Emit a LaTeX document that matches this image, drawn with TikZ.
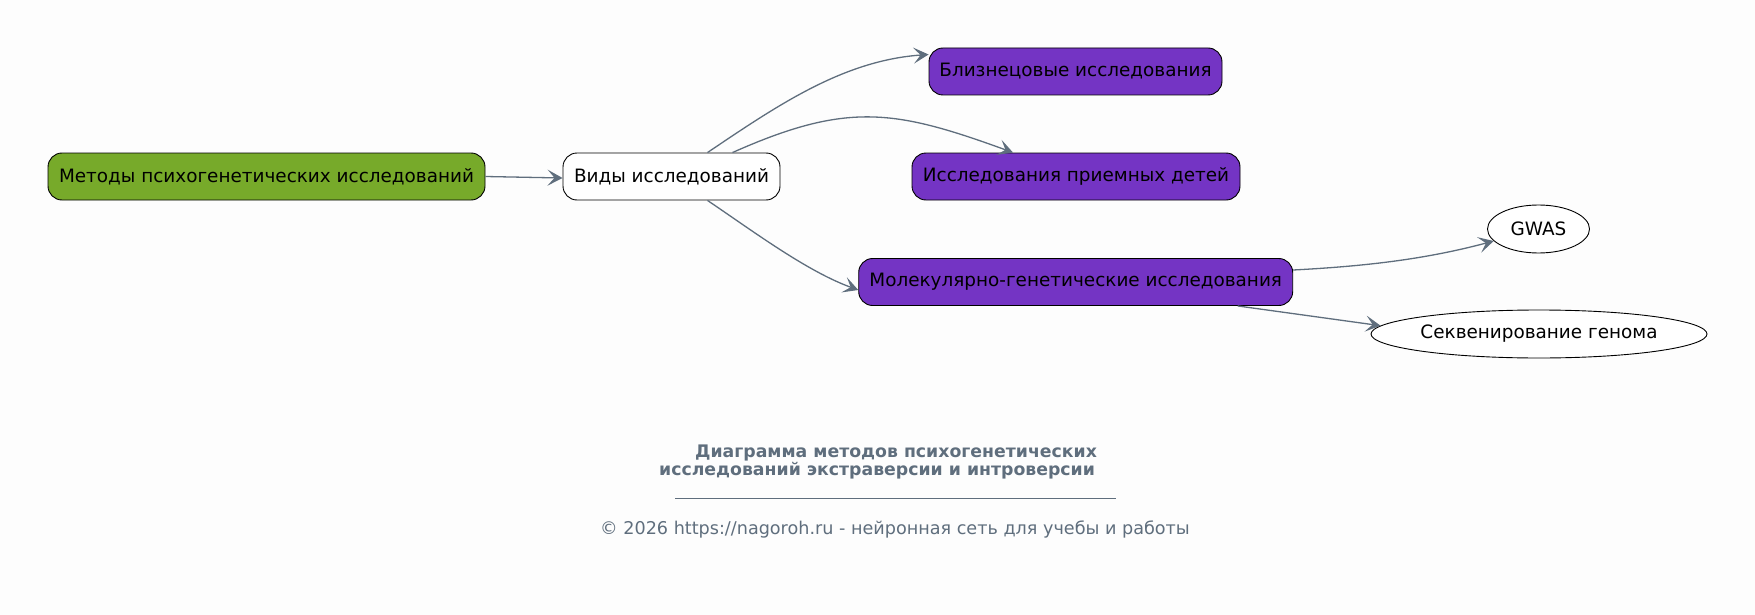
\documentclass[tikz,border=0pt]{standalone}
\usepackage{fontspec}
\setmainfont{DejaVu Sans}
\usetikzlibrary{arrows.meta,calc,shapes.geometric}
\definecolor{bg}{HTML}{FDFDFD}
\definecolor{greenf}{HTML}{77AA2A}
\definecolor{purplef}{HTML}{7434C4}
\definecolor{edgec}{HTML}{5F6E7D}
\tikzset{
  box/.style={draw=black, line width=0.9pt, rounded corners=14pt, minimum height=47pt, inner xsep=6pt, font=\fontsize{18.4}{21}\selectfont, text=black},
  ell/.style={draw=black, line width=0.9pt, ellipse, minimum height=48pt, inner sep=0pt, fill=white, font=\fontsize{18.4}{21}\selectfont},
  conn/.style={draw=edgec, line width=1.3pt, -{Stealth[length=15pt,width=16pt,inset=7pt]}},
  ttl/.style={text=edgec, font=\bfseries\fontsize{17.3}{20}\selectfont},
  copy/.style={text=edgec, font=\fontsize{17.6}{20}\selectfont}
}
\begin{document}
\begin{tikzpicture}[x=1pt,y=1pt]
\fill[bg] (0,0) rectangle (1755,-615);
\useasboundingbox (0,0) rectangle (1755,-615);
\node[box, fill=greenf, minimum width=437pt] (meth) at (266.5,-176.5) {Методы психогенетических исследований};
\node[box, fill=white, minimum width=217pt] (vid) at (671.5,-176.5) {Виды исследований};
\node[box, fill=purplef, minimum width=293pt] (twin) at (1075.5,-71.5) {Близнецовые исследования};
\node[box, fill=purplef, minimum width=328pt] (adopt) at (1076,-176.5) {Исследования приемных детей};
\node[box, fill=purplef, minimum width=434pt] (mol) at (1075.7,-282) {Молекулярно-генетические исследования};
\node[ell, minimum width=102pt] (gwas) at (1538.5,-229) {GWAS};
\node[ell, minimum width=336pt] (seq) at (1539,-334) {Секвенирование генома};

\draw[conn] (meth.east) -- ($(vid.west)+(0,-1.5)$);
\draw[conn] ($(vid.north)+(36,0)$) to[out=34,in=184,looseness=0.9] ($(twin.west)+(0,17)$);
\draw[conn] ($(vid.north)+(61,0)$) to[out=24,in=160,looseness=1.15] ($(adopt.north)+(-63,0)$);
\draw[conn] ($(vid.south)+(36,0)$) to[out=-34,in=160,looseness=0.8] ($(mol.west)+(0,-8)$);
\draw[conn] ($(mol.east)+(0,12)$) to[out=3,in=195,looseness=0.9] (gwas.195);
\draw[conn] ($(mol.south)+(162,0)$) -- (seq.177);

\node[ttl] (t1) at (896,-453) {Диаграмма методов психогенетических};
\node[ttl] (t2) at (877,-471) {исследований экстраверсии и интроверсии};
\coordinate (l1) at (675,-498);
\coordinate (l2) at (1116,-498);
\draw[edgec, line width=0.8pt] (l1) -- (l2);
\node[copy] (cp) at (895,-529.5) {© 2026 https://nagoroh.ru - нейронная сеть для учебы и работы};
\end{tikzpicture}
\end{document}
